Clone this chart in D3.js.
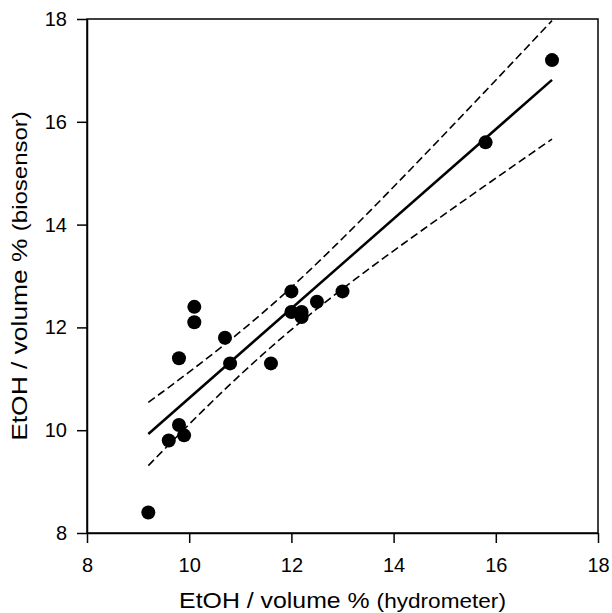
<!DOCTYPE html>
<html>
<head>
<meta charset="utf-8">
<script src="https://cdn.jsdelivr.net/npm/d3@7"></script>
<style>
  body { margin: 0; background: #fff; }
  svg text { font-family: "Liberation Sans", Arial, sans-serif; fill: #000; }
</style>
</head>
<body>
<svg id="chart" width="612" height="613"></svg>
<script>
// ethanol content: hydrometer (x) vs biosensor (y)
const hydrometer = [9.2, 9.6, 9.8, 9.9, 9.8, 10.1, 10.1, 10.7, 10.8, 11.6, 12.0, 12.0, 12.2, 12.2, 12.5, 13.0, 15.8, 17.1];
const biosensor  = [8.4, 9.8, 10.1, 9.9, 11.4, 12.4, 12.1, 11.8, 11.3, 11.3, 12.7, 12.3, 12.3, 12.2, 12.5, 12.7, 15.6, 17.2];
const xTicks = [8, 10, 12, 14, 16, 18];
const yTicks = [8, 10, 12, 14, 16, 18];
const T_95 = 2.120; // t quantile, 16 degrees of freedom

const svg = d3.select("#chart");
const margin = { left: 87, top: 19, right: 14, bottom: 80 };
const width = 612 - margin.left - margin.right;
const height = 613 - margin.top - margin.bottom;

const x = d3.scaleLinear().domain([8, 18]).range([0, width]);
const y = d3.scaleLinear().domain([8, 18]).range([height, 0]);

const g = svg.append("g").attr("transform", `translate(${margin.left},${margin.top})`);

// least squares fit + 95% confidence band of the mean
const n = hydrometer.length;
const mx = d3.mean(hydrometer), my = d3.mean(biosensor);
let sxx = 0, sxy = 0;
hydrometer.forEach((v, i) => { sxx += (v - mx) ** 2; sxy += (v - mx) * (biosensor[i] - my); });
const slope = sxy / sxx, icpt = my - slope * mx;
const ssRes = d3.sum(hydrometer, (v, i) => (biosensor[i] - (icpt + slope * v)) ** 2);
const s = Math.sqrt(ssRes / (n - 2));
const [x0, x1] = d3.extent(hydrometer);
const grid = d3.range(0, 61).map(k => x0 + (x1 - x0) * k / 60);
const half = v => T_95 * s * Math.sqrt(1 / n + (v - mx) ** 2 / sxx);

const line = d3.line().x(d => x(d[0])).y(d => y(d[1]));

g.append("path")
  .attr("d", line(grid.map(v => [v, icpt + slope * v + half(v)])))
  .attr("fill", "none").attr("stroke", "#000").attr("stroke-width", 1.6)
  .attr("stroke-dasharray", "8,4");
g.append("path")
  .attr("d", line(grid.map(v => [v, icpt + slope * v - half(v)])))
  .attr("fill", "none").attr("stroke", "#000").attr("stroke-width", 1.6)
  .attr("stroke-dasharray", "8,4");
g.append("path")
  .attr("d", line([[x0, icpt + slope * x0], [x1, icpt + slope * x1]]))
  .attr("fill", "none").attr("stroke", "#000").attr("stroke-width", 2.5);

// points
g.selectAll("circle.pt")
  .data(hydrometer.map((v, i) => [v, biosensor[i]]))
  .join("circle")
  .attr("class", "pt")
  .attr("cx", d => x(d[0]))
  .attr("cy", d => y(d[1]))
  .attr("r", 7)
  .attr("fill", "#000");

// frame
g.append("rect")
  .attr("width", width).attr("height", height)
  .attr("fill", "none").attr("stroke", "#000").attr("stroke-width", 1.5);

const xAxis = g.append("g")
  .attr("transform", `translate(0,${height})`)
  .call(d3.axisBottom(x).tickValues(xTicks).tickSize(10).tickSizeOuter(0).tickPadding(15));
const yAxis = g.append("g")
  .call(d3.axisLeft(y).tickValues(yTicks).tickSize(10).tickSizeOuter(0).tickPadding(10));
[xAxis, yAxis].forEach(a => {
  a.select(".domain").attr("stroke-width", 1.5);
  a.selectAll(".tick line").attr("stroke-width", 1.5);
  a.selectAll(".tick text").attr("font-size", 20).attr("font-family", "Liberation Sans, Arial, sans-serif");
});

// axis titles (source text is a little wider than Arial, so stretch horizontally)
const cx = margin.left + width / 2, cy = margin.top + height / 2;
const xt = svg.append("text")
  .attr("transform", `translate(${cx},608) scale(1.13,1)`)
  .attr("text-anchor", "middle").attr("font-size", 22);
xt.append("tspan").text("EtOH / volume % ");
xt.append("tspan").attr("font-size", 20).text("(hydrometer)");

const yt = svg.append("text")
  .attr("transform", `translate(27,${cy}) rotate(-90) scale(1.2,1)`)
  .attr("text-anchor", "middle").attr("font-size", 22);
yt.append("tspan").text("EtOH / volume % ");
yt.append("tspan").attr("font-size", 20).text("(biosensor)");
</script>
</body>
</html>
